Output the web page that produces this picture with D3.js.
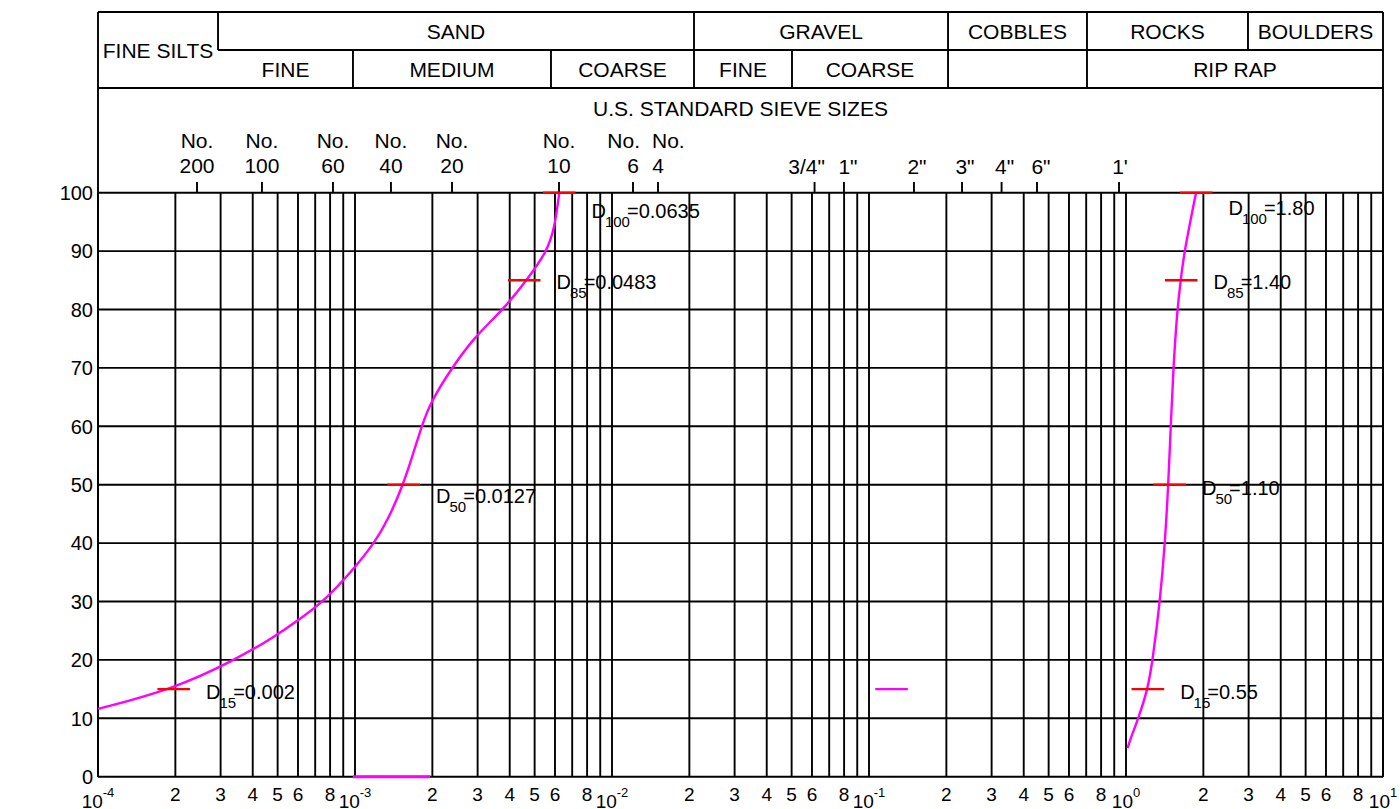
<!DOCTYPE html>
<html><head><meta charset="utf-8">
<script src="https://cdn.jsdelivr.net/npm/d3@7"></script>
<style>
body{margin:0;background:#fff}
text{font-family:"Liberation Sans",Arial,Helvetica,sans-serif;fill:#000}
</style>
</head><body>
<svg id="chart" width="1400" height="809"></svg>
<script>
// ---------------- DATA ----------------
const pctTicks = [0,10,20,30,40,50,60,70,80,90,100];
const decadePowers = [-4,-3,-2,-1,0,1];
const gridMultipliers = [1,2,3,4,5,6,7,8,9];
const labelMultipliers = [2,3,4,5,6,8];

// header classification (size boundaries on the grain-size axis)
const row1Names = ["FINE SILTS","SAND","GRAVEL","COBBLES","ROCKS","BOULDERS"];
const row1Edges = [1e-4, 2.931e-4, 2.085e-2, 0.2030, 0.7050, 2.983, 10];
const row2Names = ["FINE","MEDIUM","COARSE","FINE","COARSE","","RIP RAP"];
const row2Edges = [2.931e-4, 9.82e-4, 5.788e-3, 2.085e-2, 5.016e-2, 0.2030, 0.7050, 10];

// U.S. standard sieve sizes
const sieveNames = ["200","100","60","40","20","10","6","4"];
const sieveSizes = [2.428e-4, 4.345e-4, 8.21e-4, 1.380e-3, 2.385e-3, 6.22e-3, 1.207e-2, 1.510e-2];
const inchNames = ['3/4"','1"','2"','3"','4"','6"',"1'"];
const inchSizes = [6.14e-2, 7.99e-2, 0.1496, 0.2301, 0.328, 0.4505, 0.9393];

// gradation curve A (sand)
const curveASize = [1.00e-4, 1.963e-4, 3.41e-4, 4.80e-4, 5.93e-4, 7.55e-4, 9.82e-4, 1.19e-3, 1.344e-3, 1.541e-3, 1.686e-3, 1.818e-3, 1.96e-3, 2.379e-3, 2.931e-3, 3.776e-3, 4.657e-3, 5.60e-3, 5.98e-3, 6.235e-3];
const curveAPct  = [11.6, 15, 20, 23.8, 26.6, 30, 35.4, 40, 44, 50, 55.4, 60, 64, 70, 75.4, 80, 85, 90, 94, 100];

// gradation curve B (rip rap)
const curveBSize = [1.015, 1.037, 1.117, 1.216, 1.270, 1.356, 1.418, 1.461, 1.493, 1.528, 1.583, 1.632, 1.686, 1.873];
const curveBPct  = [4.9, 6.3, 10, 15, 20, 30, 40, 50, 60, 70, 80, 85, 90, 100];

// D-value markers
const markerSub   = ["15","50","85","100"];
const markerPct   = [15, 50, 85, 100];
const markerASize = [1.971e-4, 1.548e-3, 4.554e-3, 6.23e-3];
const markerAText = ["0.002","0.0127","0.0483","0.0635"];
const markerBSize = [1.216, 1.479, 1.640, 1.875];
const markerBText = ["0.55","1.10","1.40","1.80"];

// extra magenta marks
const strayMarkSize = [0.1224];
const strayMarkPct  = [15];
const baseSegSize   = [9.82e-4, 1.96e-3];
const baseSegPct    = [0, 0];

// ---------------- LAYOUT / STYLE ----------------
const W = 1400, H = 809;
const left = 98, right = 1383, plotTop = 192.7, plotBottom = 776.7;
const hdrTop = 12, hdrMid = 50, hdrBot = 88;
const lineW = 1.9, ink = "#000";
const magenta = "#ff00ff", red = "#ff0000";
const markHalf = 16.3;
const labelDyA = [10, 18, 9, 25];
const labelDyB = [10, 10, 9, 22];
const noAnchor = {"6":"end", "4":"start"};
const noDx = {"6": 7, "4": -6};
const inchDx = {'3/4"': -8, '1"': 4, '2"': 3, '3"': 3, '4"': 3, '6"': 4, "1'": 1};

const svg = d3.select("#chart");
svg.append("rect").attr("width",W).attr("height",H).attr("fill","#fff");

const x = d3.scaleLog().domain([1e-4, 10]).range([left, right]);
const y = d3.scaleLinear().domain([0, 100]).range([plotBottom, plotTop]);

// ---------- grid ----------
const gridVals = [];
decadePowers.forEach(p => {
  if (p === 1) { gridVals.push(Math.pow(10,p)); return; }
  gridMultipliers.forEach(m => gridVals.push(m*Math.pow(10,p)));
});
const g = svg.append("g");
g.selectAll("line.v").data(gridVals).join("line")
  .attr("x1", d=>x(d)).attr("x2", d=>x(d))
  .attr("y1", plotTop).attr("y2", plotBottom)
  .attr("stroke", ink).attr("stroke-width", lineW);
g.selectAll("line.h").data(pctTicks).join("line")
  .attr("x1", left).attr("x2", right)
  .attr("y1", d=>y(d)).attr("y2", d=>y(d))
  .attr("stroke", ink).attr("stroke-width", lineW);

// y labels
svg.append("g").selectAll("text").data(pctTicks).join("text")
  .attr("x", left-5).attr("y", d=>y(d)).attr("dy","0.36em")
  .attr("text-anchor","end").attr("font-size",20).text(d=>d);

// x labels
const minorLab = [];
decadePowers.filter(p=>p<1).forEach(p => labelMultipliers.forEach(m => minorLab.push({v:m*Math.pow(10,p), t:m})));
svg.append("g").selectAll("text").data(minorLab).join("text")
  .attr("x", d=>x(d.v)).attr("y", 801).attr("text-anchor","middle")
  .attr("font-size",19).text(d=>d.t);
const decLab = svg.append("g").selectAll("text").data(decadePowers).join("text")
  .attr("x", d=>x(Math.pow(10,d))).attr("y", 808).attr("text-anchor","middle").attr("font-size",19);
decLab.append("tspan").text("10");
decLab.append("tspan").attr("dy",-11).attr("font-size",13).text(d=>String(d));

// ---------- header frame ----------
const fr = svg.append("g").attr("stroke", ink).attr("stroke-width", lineW).attr("fill","none");
fr.append("line").attr("x1",left).attr("x2",right).attr("y1",hdrTop).attr("y2",hdrTop);
fr.append("line").attr("x1",x(row1Edges[1])).attr("x2",right).attr("y1",hdrMid).attr("y2",hdrMid);
fr.append("line").attr("x1",left).attr("x2",right).attr("y1",hdrBot).attr("y2",hdrBot);
fr.append("line").attr("x1",left).attr("x2",left).attr("y1",hdrTop).attr("y2",plotBottom);
fr.append("line").attr("x1",right).attr("x2",right).attr("y1",hdrTop).attr("y2",plotBottom);
row1Edges.slice(1,-1).forEach(v => fr.append("line").attr("x1",x(v)).attr("x2",x(v)).attr("y1",hdrTop).attr("y2",hdrMid));
row2Edges.slice(1,-1).forEach(v => fr.append("line").attr("x1",x(v)).attr("x2",x(v)).attr("y1",hdrMid).attr("y2",hdrBot));

const ht = svg.append("g").attr("font-size",21).attr("text-anchor","middle");
row1Names.forEach((n,i) => {
  const cx = (x(row1Edges[i]) + x(row1Edges[i+1]))/2;
  const cy = i===0 ? hdrMid : (hdrTop+hdrMid)/2;
  ht.append("text").attr("x",cx).attr("y",cy).attr("dy","0.36em").text(n);
});
row2Names.forEach((n,i) => {
  const cx = (x(row2Edges[i]) + x(row2Edges[i+1]))/2;
  ht.append("text").attr("x",cx).attr("y",(hdrMid+hdrBot)/2).attr("dy","0.36em").text(n);
});
ht.append("text").attr("x",(left+right)/2).attr("y",108).attr("dy","0.36em").text("U.S. STANDARD SIEVE SIZES");

// sieve ticks & labels
const st = svg.append("g").attr("font-size",21);
st.selectAll("line").data(sieveSizes.concat(inchSizes)).join("line")
  .attr("x1",d=>x(d)).attr("x2",d=>x(d)).attr("y1",182).attr("y2",plotTop)
  .attr("stroke",ink).attr("stroke-width",lineW);
sieveNames.forEach((n,i) => {
  const cx = x(sieveSizes[i]);
  st.append("text").attr("x", cx + (noDx[n]||0)).attr("y",148)
    .attr("text-anchor", noAnchor[n]||"middle").text("No.");
  st.append("text").attr("x",cx).attr("y",173).attr("text-anchor","middle").text(n);
});
inchNames.forEach((n,i) => {
  st.append("text").attr("x",x(inchSizes[i]) + (inchDx[n]||0)).attr("y",174).attr("text-anchor","middle").text(n);
});

// ---------- curves ----------
const line = d3.line().x(d=>x(d[0])).y(d=>y(d[1])).curve(d3.curveBasis);
svg.append("path").datum(curveASize.map((s,i)=>[s,curveAPct[i]]))
  .attr("d",line).attr("fill","none").attr("stroke",magenta).attr("stroke-width",2.4);
svg.append("path").datum(curveBSize.map((s,i)=>[s,curveBPct[i]]))
  .attr("d",line).attr("fill","none").attr("stroke",magenta).attr("stroke-width",2.4);
svg.append("path").datum(baseSegSize.map((s,i)=>[s,baseSegPct[i]]))
  .attr("d",d3.line().x(d=>x(d[0])).y(d=>y(d[1]))).attr("fill","none").attr("stroke",magenta).attr("stroke-width",3);
svg.append("g").selectAll("line").data(strayMarkSize).join("line")
  .attr("x1",d=>x(d)-markHalf).attr("x2",d=>x(d)+markHalf)
  .attr("y1",(d,i)=>y(strayMarkPct[i])).attr("y2",(d,i)=>y(strayMarkPct[i]))
  .attr("stroke",magenta).attr("stroke-width",2.4);

// ---------- markers ----------
function drawMarkers(sizes, texts, dys){
  const mg = svg.append("g");
  sizes.forEach((s,i) => {
    const cx = x(s), cy = y(markerPct[i]);
    mg.append("line").attr("x1",cx-markHalf).attr("x2",cx+markHalf).attr("y1",cy).attr("y2",cy)
      .attr("stroke",red).attr("stroke-width",2.4);
    const t = mg.append("text").attr("x",cx+markHalf+16).attr("y",cy+dys[i]).attr("font-size",20);
    t.append("tspan").text("D");
    t.append("tspan").attr("dy",9).attr("dx",-1).attr("font-size",15).text(markerSub[i]);
    t.append("tspan").attr("dy",-9).attr("dx",-3).text("=" + texts[i]);
  });
}
drawMarkers(markerASize, markerAText, labelDyA);
drawMarkers(markerBSize, markerBText, labelDyB);
</script>
</body></html>
